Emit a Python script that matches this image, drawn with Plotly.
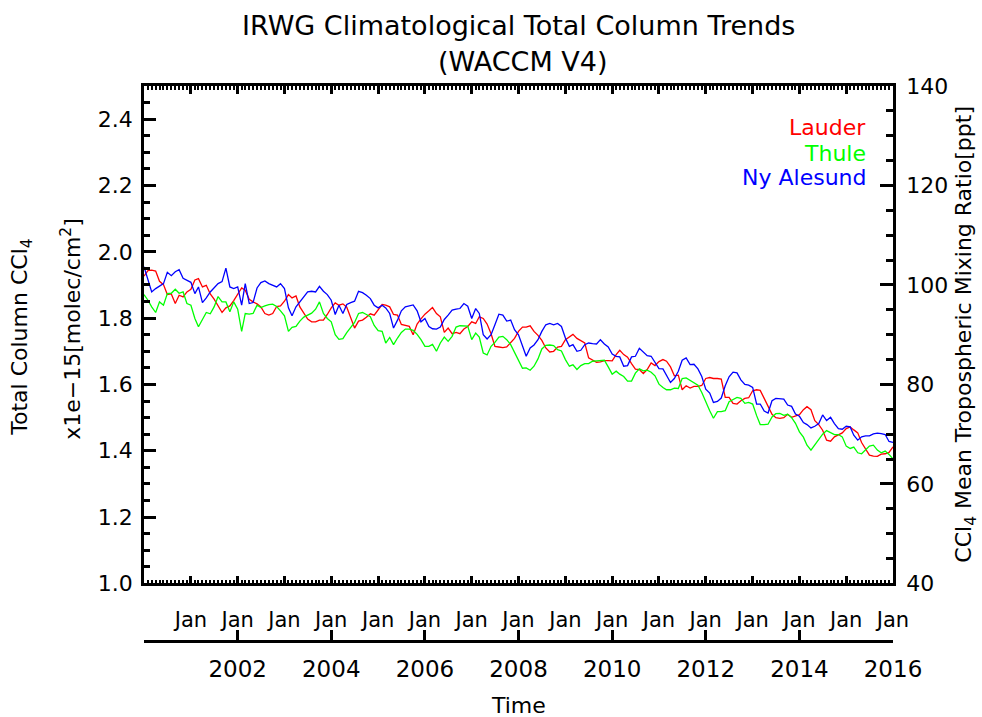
import pandas as pd
import plotly.graph_objects as go

# ---------------- data ----------------
series_names = ["Lauder", "Thule", "Ny Alesund"]
series_colors = ["#ff0000", "#00ff00", "#0000ff"]
start_month = "2000-01-01"
end_month = "2016-01-01"

lauder = [
    1.927, 1.943, 1.945, 1.942, 1.911, 1.901, 1.871, 1.873, 1.844, 1.869,
    1.864, 1.879, 1.887, 1.915, 1.919, 1.894, 1.899, 1.873, 1.857, 1.837,
    1.817, 1.831, 1.837, 1.853, 1.873, 1.891, 1.884, 1.857, 1.849, 1.843,
    1.834, 1.814, 1.809, 1.814, 1.835, 1.837, 1.851, 1.871, 1.861, 1.867,
    1.834, 1.817, 1.797, 1.789, 1.789, 1.794, 1.794, 1.811, 1.831, 1.846,
    1.839, 1.843, 1.833, 1.801, 1.770, 1.791, 1.794, 1.803, 1.813, 1.809,
    1.827, 1.841, 1.839, 1.834, 1.811,
    1.809, 1.781, 1.777, 1.775, 1.750, 1.782, 1.798, 1.812, 1.822, 1.832,
    1.814, 1.804, 1.757, 1.770, 1.753, 1.757, 1.753, 1.767, 1.775, 1.789,
    1.784, 1.804, 1.799, 1.782, 1.753, 1.715, 1.713, 1.711, 1.713, 1.725,
    1.739, 1.760, 1.773, 1.773, 1.777, 1.760, 1.748, 1.733, 1.710, 1.698,
    1.700, 1.713, 1.715, 1.735, 1.744, 1.751, 1.739, 1.733, 1.725, 1.680,
    1.673, 1.667, 1.668, 1.672, 1.672, 1.671, 1.690, 1.703, 1.690, 1.682,
    1.663, 1.646,
    1.645, 1.633, 1.645, 1.665, 1.657, 1.669, 1.675, 1.670, 1.653, 1.626,
    1.628, 1.584, 1.596, 1.589, 1.594, 1.594, 1.597, 1.618, 1.621, 1.618,
    1.618, 1.616, 1.561, 1.561, 1.543, 1.541, 1.551, 1.558, 1.560, 1.581,
    1.584, 1.582, 1.558, 1.534, 1.510, 1.500, 1.498, 1.500, 1.510, 1.501,
    1.506, 1.509, 1.524, 1.533, 1.524, 1.491, 1.479, 1.462, 1.432, 1.429,
    1.442, 1.447, 1.454, 1.467, 1.472, 1.463, 1.454, 1.425, 1.405, 1.387,
    1.384, 1.383, 1.390, 1.391, 1.395, 1.412,
]

thule = [
    1.871, 1.854, 1.834, 1.817, 1.849, 1.839, 1.874, 1.875, 1.887, 1.875,
    1.879, 1.844, 1.839, 1.799, 1.774, 1.797, 1.817, 1.813, 1.834, 1.865,
    1.849, 1.849, 1.819, 1.849, 1.827, 1.760, 1.814, 1.812, 1.814, 1.839,
    1.832, 1.837, 1.841, 1.842, 1.835, 1.822, 1.807, 1.760, 1.772, 1.775,
    1.791, 1.803, 1.809, 1.815, 1.827, 1.849, 1.814, 1.799, 1.789, 1.750,
    1.736, 1.738, 1.756, 1.772, 1.787, 1.814, 1.817, 1.811, 1.804, 1.778,
    1.762, 1.760, 1.725, 1.742, 1.720,
    1.740, 1.757, 1.767, 1.767, 1.763, 1.751, 1.735, 1.715, 1.715, 1.721,
    1.700, 1.725, 1.743, 1.730, 1.745, 1.773, 1.777, 1.777, 1.776, 1.735,
    1.755, 1.743, 1.695, 1.689, 1.715, 1.727, 1.743, 1.745, 1.735, 1.720,
    1.697, 1.675, 1.649, 1.650, 1.643, 1.655, 1.677, 1.707, 1.718, 1.719,
    1.717, 1.705, 1.701, 1.675, 1.655, 1.659, 1.645, 1.657, 1.663, 1.663,
    1.670, 1.671, 1.673, 1.673, 1.653, 1.631, 1.640, 1.631, 1.624, 1.610,
    1.610, 1.634,
    1.647, 1.641, 1.643, 1.637, 1.626, 1.601, 1.591, 1.584, 1.584, 1.589,
    1.588, 1.618, 1.620, 1.613, 1.605, 1.598, 1.576, 1.547, 1.521, 1.498,
    1.518, 1.518, 1.521, 1.548, 1.554, 1.561, 1.558, 1.543, 1.546, 1.541,
    1.506, 1.479, 1.479, 1.480, 1.502, 1.512, 1.513, 1.507, 1.510, 1.500,
    1.483, 1.457, 1.441, 1.417, 1.402, 1.417, 1.435, 1.450, 1.461, 1.455,
    1.449, 1.449, 1.442, 1.414, 1.407, 1.411, 1.394, 1.391, 1.402, 1.414,
    1.417, 1.402, 1.394, 1.399, 1.389, 1.375,
]

ny_alesund = [
    1.955, 1.914, 1.879, 1.889, 1.897, 1.904, 1.938, 1.928, 1.940, 1.946,
    1.920, 1.913, 1.908, 1.874, 1.894, 1.847, 1.861, 1.879, 1.891, 1.904,
    1.910, 1.951, 1.894, 1.889, 1.894, 1.839, 1.904, 1.844, 1.847, 1.891,
    1.907, 1.912, 1.904, 1.900, 1.894, 1.904, 1.889, 1.831, 1.807, 1.834,
    1.849, 1.861, 1.879, 1.881, 1.879, 1.896, 1.881, 1.871, 1.854, 1.811,
    1.839, 1.814, 1.841, 1.847, 1.851, 1.881, 1.877, 1.869, 1.859, 1.839,
    1.831, 1.839, 1.831, 1.814, 1.770,
    1.794, 1.822, 1.834, 1.837, 1.840, 1.822, 1.789, 1.799, 1.775, 1.768,
    1.767, 1.773, 1.796, 1.809, 1.824, 1.827, 1.829, 1.844, 1.836, 1.799,
    1.829, 1.814, 1.750, 1.737, 1.750, 1.780, 1.812, 1.809, 1.791, 1.794,
    1.765, 1.750, 1.715, 1.685, 1.710, 1.719, 1.735, 1.760, 1.780, 1.784,
    1.780, 1.784, 1.775, 1.740, 1.715, 1.720, 1.700, 1.703, 1.720, 1.725,
    1.723, 1.722, 1.735, 1.722, 1.713, 1.692, 1.685, 1.683, 1.655, 1.657,
    1.683, 1.685,
    1.709, 1.697, 1.687, 1.685, 1.665, 1.648, 1.647, 1.627, 1.606, 1.618,
    1.640, 1.673, 1.680, 1.660, 1.661, 1.647, 1.624, 1.586, 1.574, 1.546,
    1.549, 1.559, 1.596, 1.623, 1.637, 1.635, 1.614, 1.600, 1.598, 1.591,
    1.541, 1.541, 1.520, 1.514, 1.551, 1.558, 1.558, 1.556, 1.538, 1.534,
    1.511, 1.504, 1.485, 1.479, 1.469, 1.474, 1.482, 1.508, 1.491, 1.501,
    1.482, 1.467, 1.465, 1.474, 1.472, 1.447, 1.432, 1.442, 1.445, 1.445,
    1.451, 1.453, 1.452, 1.449, 1.428, 1.425,
]

left_tick_values = [1.0, 1.2, 1.4, 1.6, 1.8, 2.0, 2.2, 2.4]
right_tick_values = [40, 60, 80, 100, 120, 140]
jan_years = list(range(2001, 2017))
label_years = [2002, 2004, 2006, 2008, 2010, 2012, 2014, 2016]

title_line1 = "IRWG Climatological Total Column Trends"
title_line2 = "(WACCM V4)"
left_title1 = "Total Column CCl<sub>4</sub>"
left_title2 = "x1e\u221215[molec/cm<sup>2</sup>]"
right_title = "CCl<sub>4</sub> Mean Tropospheric Mixing Ratio[ppt]"
x_title = "Time"

# ---------------- figure ----------------
FONT = "DejaVu Sans"
W, H = 982, 717
ML, MR, MT, MB = 144, 89, 86, 17
PW, PH = W - ML - MR, H - MT - MB


def px(x):
    return (x - ML) / PW


def py(y):
    return (H - MB - y) / PH


dates = pd.date_range(start_month, periods=len(lauder), freq="MS")

fig = go.Figure()
for name, color, vals in zip(series_names, series_colors, [lauder, thule, ny_alesund]):
    fig.add_trace(go.Scatter(x=dates, y=vals, mode="lines", name=name,
                             line=dict(color=color, width=1.3),
                             xaxis="x", yaxis="y"))
# helper traces so that secondary axes get drawn
fig.add_trace(go.Scatter(x=[dates[0]], y=[None], xaxis="x", yaxis="y2",
                         showlegend=False, hoverinfo="skip", mode="lines"))
fig.add_trace(go.Scatter(x=[dates[0]], y=[None], xaxis="x2", yaxis="y",
                         showlegend=False, hoverinfo="skip", mode="lines"))

plot_bottom = 590
year_axis_y = 648
ydom0 = py(plot_bottom)

axis_common = dict(showgrid=False, zeroline=False, showline=True,
                   linecolor="black", linewidth=2.5, tickcolor="black",
                   ticks="inside")

fig.update_layout(
    width=W, height=H,
    margin=dict(l=ML, r=MR, t=MT, b=MB, pad=0),
    paper_bgcolor="white", plot_bgcolor="white",
    showlegend=False,
    font=dict(family=FONT, color="black"),
    xaxis=dict(
        **axis_common,
        type="date", range=[start_month, end_month], domain=[0, 1], anchor="y",
        mirror="ticks",
        tickmode="array",
        tickvals=[f"{y}-01-01" for y in jan_years],
        ticktext=["Jan" for _ in jan_years],
        ticklen=8, tickwidth=2.5,
        tickfont=dict(size=21, family=FONT),
        ticklabelstandoff=16,
        minor=dict(dtick="M1", tick0=start_month, ticks="inside", ticklen=4,
                   tickwidth=1.5, tickcolor="black", showgrid=False),
    ),
    xaxis2=dict(
        **axis_common,
        type="date", range=[start_month, end_month], overlaying="x",
        anchor="free", position=py(year_axis_y), side="bottom",
        tickmode="array",
        tickvals=[f"{y}-01-01" for y in label_years],
        ticktext=[str(y) for y in label_years],
        ticklen=10, tickwidth=2.5,
        tickfont=dict(size=23, family=FONT),
        ticklabelstandoff=7,
    ),
    yaxis=dict(
        **axis_common,
        range=[1.0, 2.5], domain=[ydom0, 1], anchor="x",
        tickmode="array", tickvals=left_tick_values,
        ticktext=[f"{v:.1f}" for v in left_tick_values],
        ticklen=12, tickwidth=2.5,
        tickfont=dict(size=22, family=FONT),
        ticklabelstandoff=4,
        minor=dict(dtick=0.05, tick0=1.0, ticks="inside", ticklen=6,
                   tickwidth=2.5, tickcolor="black", showgrid=False),
    ),
    yaxis2=dict(
        **axis_common,
        range=[40, 140], overlaying="y", side="right", anchor="x",
        tickmode="array", tickvals=right_tick_values,
        ticktext=[str(v) for v in right_tick_values],
        ticklen=13, tickwidth=2.5,
        tickfont=dict(size=22, family=FONT),
        ticklabelstandoff=6,
        minor=dict(dtick=5, tick0=40, ticks="inside", ticklen=7,
                   tickwidth=2.5, tickcolor="black", showgrid=False),
    ),
)

ann = []
ann.append(dict(text=title_line1, x=px(518), y=py(25), xref="paper", yref="paper",
                xanchor="center", yanchor="middle", showarrow=False,
                font=dict(size=27, family=FONT)))
ann.append(dict(text=title_line2, x=px(523), y=py(61), xref="paper", yref="paper",
                xanchor="center", yanchor="middle", showarrow=False,
                font=dict(size=27, family=FONT)))
ann.append(dict(text=left_title1, x=px(22), y=py(340), xref="paper", yref="paper",
                xanchor="center", yanchor="middle", showarrow=False, textangle=-90,
                font=dict(size=22, family=FONT)))
ann.append(dict(text=left_title2, x=px(71), y=py(332), xref="paper", yref="paper",
                xanchor="center", yanchor="middle", showarrow=False, textangle=-90,
                font=dict(size=22, family=FONT)))
ann.append(dict(text=right_title, x=px(966), y=py(338), xref="paper", yref="paper",
                xanchor="center", yanchor="middle", showarrow=False, textangle=-90,
                font=dict(size=22, family=FONT)))
ann.append(dict(text=x_title, x=px(518), y=py(714), xref="paper", yref="paper",
                xanchor="center", yanchor="middle", showarrow=False,
                font=dict(size=22, family=FONT)))
legend_y = [128, 154, 179]
for name, color, ly in zip(series_names, series_colors, legend_y):
    ann.append(dict(text=name, x=px(868), y=py(ly), xref="paper", yref="paper",
                    xanchor="right", yanchor="middle", showarrow=False,
                    font=dict(size=22, family=FONT, color=color)))
fig.update_layout(annotations=ann)

fig.write_html("out.html")
